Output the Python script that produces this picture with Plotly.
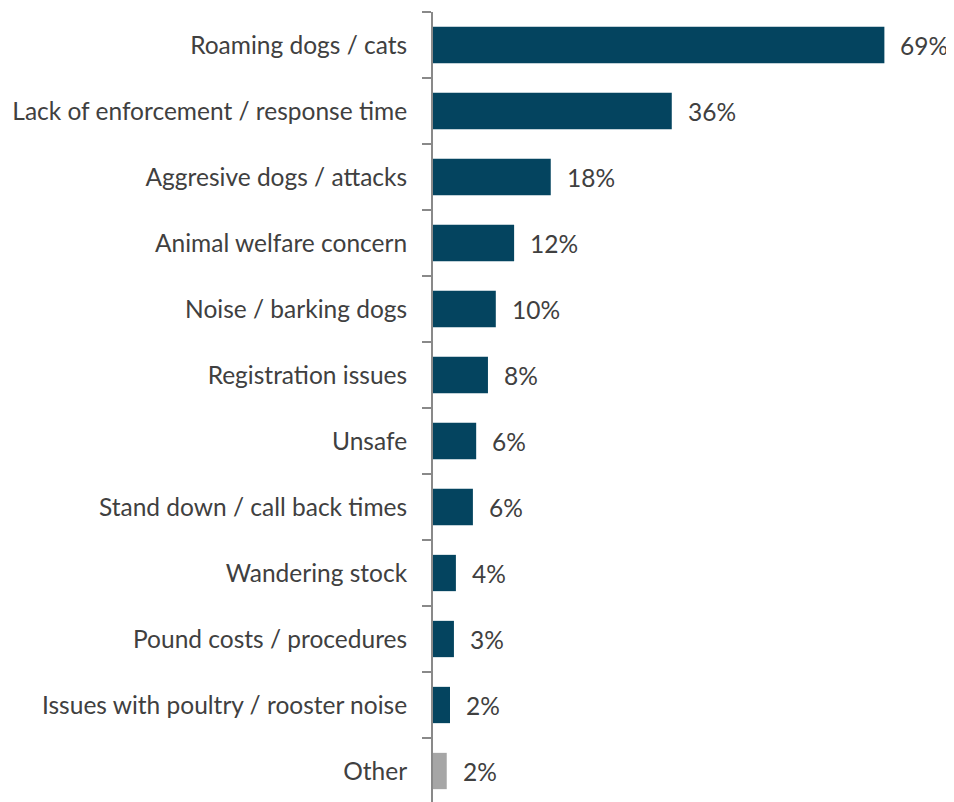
import plotly.graph_objects as go

categories = [
    "Roaming dogs / cats",
    "Lack of enforcement / response time",
    "Aggresive dogs / attacks",
    "Animal welfare concern",
    "Noise / barking dogs",
    "Registration issues",
    "Unsafe",
    "Stand down / call back times",
    "Wandering stock",
    "Pound costs / procedures",
    "Issues with poultry / rooster noise",
    "Other",
]
values = [69.0, 36.5, 18.0, 12.4, 9.6, 8.4, 6.6, 6.1, 3.5, 3.2, 2.6, 2.1]
labels = ["69%", "36%", "18%", "12%", "10%", "8%", "6%", "6%", "4%", "3%", "2%", "2%"]

MAIN = "#04445F"
OTHER = "#A6A6A6"
colors = [OTHER if c == "Other" else MAIN for c in categories]
FONT = "Lato"
FSIZE = 24.5

fig = go.Figure(
    go.Bar(
        y=categories,
        x=values,
        orientation="h",
        marker=dict(color=colors, line=dict(width=0)),
        hoverinfo="skip",
    )
)

for c, v, t in zip(categories, values, labels):
    fig.add_annotation(
        x=v, y=c, text=t, showarrow=False, xanchor="left", xshift=14,
        font=dict(family=FONT, size=FSIZE, color="#404040"),
    )

fig.update_layout(
    width=954,
    height=802,
    margin=dict(l=425, r=58, t=4, b=6),
    plot_bgcolor="white",
    paper_bgcolor="white",
    bargap=0.45,
    showlegend=False,
    font=dict(family=FONT, size=FSIZE, color="#404040"),
)
fig.update_xaxes(
    range=[0, 72], visible=False, fixedrange=True,
)
fig.update_yaxes(
    categoryorder="array",
    categoryarray=categories[::-1],
    autorange=False,
    range=[-0.5, len(categories) - 0.5],
    showline=True,
    linecolor="#898989",
    linewidth=2,
    ticks="outside",
    tickson="boundaries",
    ticklen=9,
    tickwidth=2,
    tickcolor="#898989",
    ticklabelstandoff=19,
    showgrid=False,
    tickfont=dict(family=FONT, size=FSIZE, color="#404040"),
)

fig.write_html("out.html")
